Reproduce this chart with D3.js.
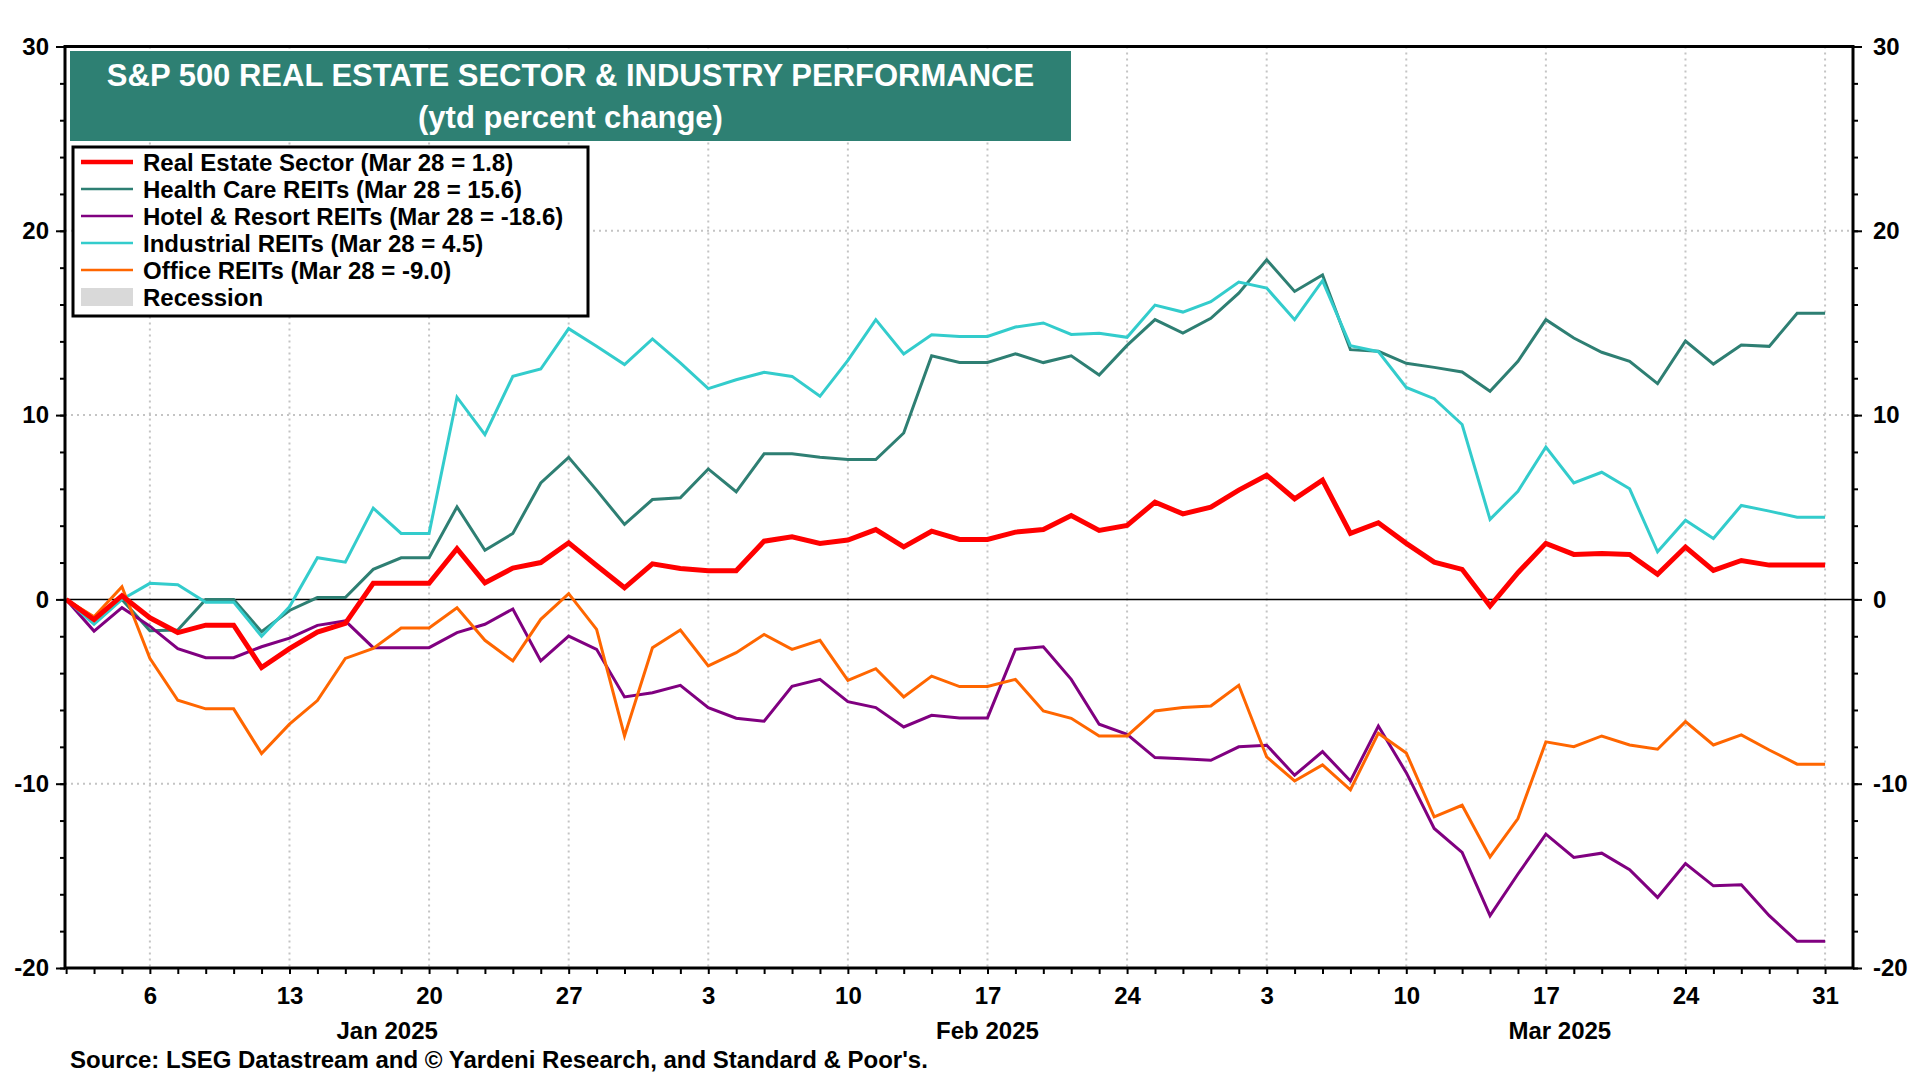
<!DOCTYPE html>
<html lang="en">

<head>
	<meta charset="utf-8">
	<title>S&amp;P 500 Real Estate Sector &amp; Industry Performance</title>
	<script src="https://d3js.org/d3.v7.min.js"></script>
	<style type="text/css">
		body {
			margin: 0;
			background: white;
		}

		svg text {
			font-family: Arial, "Liberation Sans", sans-serif;
			font-weight: bold;
		}

		.axis path {
			display: none;
		}

		.axis line {
			stroke: black;
			stroke-width: 2;
		}

		.grid line {
			stroke: #c4c4c4;
			stroke-width: 2;
			stroke-dasharray: 2, 4;
		}
	</style>
</head>

<body>

	<script type="text/javascript">

		//Trading days (weekdays), ytd from Jan 1 to Mar 31 2025
		var startDate = new Date(2025, 0, 1);
		var endDate = new Date(2025, 2, 31);
		var days = d3.timeDay.range(startDate, d3.timeDay.offset(endDate, 1))
			.filter(function (d) { return d.getDay() !== 0 && d.getDay() !== 6; });

		//Series (ytd percent change), one value per weekday
		var realEstate = [0, -1.1, 0.2, -1.0, -1.8, -1.4, -1.4, -3.7, -2.67, -1.77, -1.3, 0.87, 0.87, 0.87, 2.75, 0.9,
			1.7, 2.0, 3.07, 1.84, 0.63, 1.93, 1.68, 1.55, 1.55, 3.16, 3.4, 3.04, 3.22, 3.79, 2.85, 3.7,
			3.25, 3.25, 3.65, 3.79, 4.55, 3.74, 4.01, 5.28, 4.64, 5.0, 5.93, 6.74, 5.46, 6.47, 3.58, 4.16,
			3.04, 2.02, 1.63, -0.36, 1.45, 3.04, 2.44, 2.49, 2.44, 1.36, 2.84, 1.57, 2.11, 1.86, 1.86, 1.86];

		var healthCare = [0, -1.0, 0, -1.7, -1.66, 0, 0, -1.75, -0.6, 0.1, 0.1, 1.63, 2.26, 2.26, 5.02, 2.67,
			3.58, 6.32, 7.71, 5.93, 4.07, 5.42, 5.51, 7.08, 5.84, 7.9, 7.9, 7.71, 7.59, 7.59, 9.03, 13.22,
			12.85, 12.86, 13.33, 12.85, 13.22, 12.18, 13.78, 15.18, 14.45, 15.25, 16.62, 18.43, 16.71, 17.6, 13.55, 13.46,
			12.81, 12.59, 12.34, 11.29, 12.92, 15.18, 14.18, 13.41, 12.92, 11.71, 14.02, 12.77, 13.8, 13.73, 15.52, 15.52];

		var hotelResort = [0, -1.72, -0.45, -1.45, -2.67, -3.16, -3.16, -2.57, -2.1, -1.41, -1.17, -2.62, -2.62, -2.62, -1.8, -1.35,
			-0.52, -3.34, -1.99, -2.71, -5.29, -5.06, -4.66, -5.87, -6.45, -6.61, -4.72, -4.34, -5.55, -5.87, -6.92, -6.29,
			-6.44, -6.43, -2.71, -2.57, -4.34, -6.77, -7.32, -8.58, -8.65, -8.73, -8.0, -7.91, -9.54, -8.26, -9.85, -6.87,
			-9.4, -12.43, -13.73, -17.16, -14.9, -12.74, -14.0, -13.77, -14.67, -16.17, -14.33, -15.54, -15.48, -17.16, -18.55, -18.55];

		var industrial = [0, -1.35, 0, 0.87, 0.8, -0.15, -0.15, -2.0, -0.4, 2.26, 2.02, 4.95, 3.58, 3.58, 10.97, 8.94,
			12.1, 12.5, 14.69, 13.73, 12.74, 14.13, 12.83, 11.44, 11.92, 12.32, 12.1, 11.02, 12.97, 15.18, 13.32, 14.36,
			14.27, 14.27, 14.78, 15.0, 14.38, 14.44, 14.22, 15.97, 15.59, 16.15, 17.22, 16.89, 15.18, 17.29, 13.77, 13.44,
			11.5, 10.89, 9.49, 4.34, 5.87, 8.27, 6.32, 6.9, 6.0, 2.58, 4.3, 3.31, 5.1, 4.79, 4.46, 4.46];

		var office = [0, -0.94, 0.69, -3.2, -5.47, -5.94, -5.94, -8.36, -6.77, -5.49, -3.2, -2.66, -1.55, -1.55, -0.45, -2.22,
			-3.34, -1.08, 0.31, -1.63, -7.41, -2.62, -1.66, -3.61, -2.89, -1.9, -2.71, -2.22, -4.39, -3.76, -5.29, -4.16,
			-4.73, -4.73, -4.34, -6.05, -6.45, -7.41, -7.41, -6.05, -5.87, -5.78, -4.66, -8.55, -9.85, -8.98, -10.33, -7.26,
			-8.33, -11.8, -11.17, -13.97, -11.89, -7.73, -7.99, -7.41, -7.9, -8.13, -6.63, -7.9, -7.35, -8.17, -8.94, -8.94];

		//Legend labels and colours
		var seriesNames = ["Real Estate Sector (Mar 28 = 1.8)", "Health Care REITs (Mar 28 = 15.6)",
			"Hotel & Resort REITs (Mar 28 = -18.6)", "Industrial REITs (Mar 28 = 4.5)", "Office REITs (Mar 28 = -9.0)"];
		var seriesColors = ["#ff0000", "#2e7f73", "#800080", "#33cccc", "#ff6600"];
		var seriesWidths = [5, 3, 3, 3, 3];
		var seriesValues = [realEstate, healthCare, hotelResort, industrial, office];

		//Axis labels
		var yMajorTicks = [-20, -10, 0, 10, 20, 30];
		var yMinorTicks = d3.range(-20, 31, 2);
		var monthLabels = ["Jan 2025", "Feb 2025", "Mar 2025"];
		var titleLines = ["S&P 500 REAL ESTATE SECTOR & INDUSTRY PERFORMANCE", "(ytd percent change)"];
		var sourceText = "Source: LSEG Datastream and \u00a9 Yardeni Research, and Standard & Poor's.";

		//Size and plot box
		var w = 1920;
		var h = 1080;
		var plotLeft = 65, plotRight = 1853, plotTop = 46.5, plotBottom = 968;

		var svg = d3.select("body")
			.append("svg")
			.attr("width", w)
			.attr("height", h);

		//Scales: x on trading-day index, y on percent
		var xScale = d3.scaleLinear()
			.domain([-0.04, 64])
			.range([plotLeft, plotRight]);

		var yScale = d3.scaleLinear()
			.domain([-20, 30])
			.range([plotBottom, plotTop]);

		var mondays = d3.range(days.length).filter(function (i) { return days[i].getDay() === 1; });

		//Grid lines
		svg.append("g")
			.attr("class", "grid")
			.selectAll("line")
			.data(mondays)
			.enter()
			.append("line")
			.attr("x1", function (d) { return xScale(d); })
			.attr("x2", function (d) { return xScale(d); })
			.attr("y1", plotTop)
			.attr("y2", plotBottom);

		svg.append("g")
			.attr("class", "grid")
			.selectAll("line")
			.data([-10, 10, 20])
			.enter()
			.append("line")
			.attr("x1", plotLeft)
			.attr("x2", plotRight)
			.attr("y1", function (d) { return yScale(d); })
			.attr("y2", function (d) { return yScale(d); });

		//Zero line
		svg.append("line")
			.attr("x1", plotLeft)
			.attr("x2", plotRight)
			.attr("y1", yScale(0))
			.attr("y2", yScale(0))
			.attr("stroke", "black")
			.attr("stroke-width", 1.5);

		//Lines (real estate drawn last, on top)
		var line = d3.line()
			.x(function (d, i) { return xScale(i); })
			.y(function (d) { return yScale(d); });

		var drawOrder = [1, 2, 3, 4, 0];
		drawOrder.forEach(function (k) {
			svg.append("path")
				.datum(seriesValues[k])
				.attr("fill", "none")
				.attr("stroke", seriesColors[k])
				.attr("stroke-width", seriesWidths[k])
				.attr("stroke-linejoin", "miter")
				.attr("d", line);
		});

		//Frame
		svg.append("rect")
			.attr("x", plotLeft)
			.attr("y", plotTop)
			.attr("width", plotRight - plotLeft)
			.attr("height", plotBottom - plotTop)
			.attr("fill", "none")
			.attr("stroke", "black")
			.attr("stroke-width", 3);

		//Y axes, minor then major (plain hyphen for negatives)
		function yAxes(axisFn, x, size, pad) {
			svg.append("g")
				.attr("class", "axis")
				.attr("transform", "translate(" + x + ",0)")
				.call(axisFn(yScale).tickValues(yMinorTicks).tickSize(5).tickFormat(""));
			var g = svg.append("g")
				.attr("class", "axis")
				.attr("transform", "translate(" + x + ",0)")
				.call(axisFn(yScale).tickValues(yMajorTicks).tickSize(size).tickPadding(pad)
					.tickFormat(function (d) { return String(d); }));
			g.selectAll("text")
				.attr("font-size", "24px")
				.attr("fill", "black");
		}
		yAxes(d3.axisLeft, plotLeft, 9, 7);
		yAxes(d3.axisRight, plotRight, 9, 11);

		//X axis: a tick for every weekday, day number on Mondays
		var xAxis = d3.axisBottom(xScale)
			.tickValues(d3.range(days.length))
			.tickSize(6)
			.tickFormat(function (i) {
				return days[i].getDay() === 1 ? d3.timeFormat("%-d")(days[i]) : "";
			});

		svg.append("g")
			.attr("class", "axis")
			.attr("transform", "translate(0," + plotBottom + ")")
			.call(xAxis)
			.selectAll("text")
			.attr("font-size", "24px")
			.attr("fill", "black")
			.attr("dy", null)
			.attr("y", 36);

		//Month labels centred on each month
		svg.selectAll(".month")
			.data(monthLabels)
			.enter()
			.append("text")
			.attr("class", "month")
			.attr("x", function (d, m) {
				var idx = d3.range(days.length).filter(function (i) { return days[i].getMonth() === m; });
				return xScale((idx[0] + idx[idx.length - 1]) / 2 + 0.5);
			})
			.attr("y", 1039)
			.attr("text-anchor", "middle")
			.attr("font-size", "24px")
			.text(function (d) { return d; });

		//Title box
		svg.append("rect")
			.attr("x", 70)
			.attr("y", 51)
			.attr("width", 1001)
			.attr("height", 90)
			.attr("fill", "#2e8073");

		svg.selectAll(".title")
			.data(titleLines)
			.enter()
			.append("text")
			.attr("class", "title")
			.attr("x", 570.5)
			.attr("y", function (d, i) { return 86 + i * 42; })
			.attr("text-anchor", "middle")
			.attr("font-size", "31px")
			.attr("fill", "white")
			.text(function (d) { return d; });

		//Legend
		svg.append("rect")
			.attr("x", 73)
			.attr("y", 147)
			.attr("width", 515)
			.attr("height", 169)
			.attr("fill", "white")
			.attr("stroke", "black")
			.attr("stroke-width", 3);

		var legendRows = seriesNames.concat(["Recession"]);
		var legend = svg.selectAll(".legend")
			.data(legendRows)
			.enter()
			.append("g")
			.attr("class", "legend")
			.attr("transform", function (d, i) { return "translate(0," + (162 + i * 27) + ")"; });

		legend.each(function (d, i) {
			var g = d3.select(this);
			if (i < seriesNames.length) {
				g.append("line")
					.attr("x1", 81)
					.attr("x2", 133)
					.attr("stroke", seriesColors[i])
					.attr("stroke-width", seriesWidths[i] - 0.5);
			} else {
				g.append("rect")
					.attr("x", 81)
					.attr("y", -9)
					.attr("width", 52)
					.attr("height", 18)
					.attr("fill", "#d9d9d9");
			}
			g.append("text")
				.attr("x", 143)
				.attr("y", 8.5)
				.attr("font-size", "24px")
				.text(d);
		});

		//Source
		svg.append("text")
			.attr("x", 70)
			.attr("y", 1068)
			.attr("font-size", "24px")
			.text(sourceText);

	</script>
</body>

</html>
